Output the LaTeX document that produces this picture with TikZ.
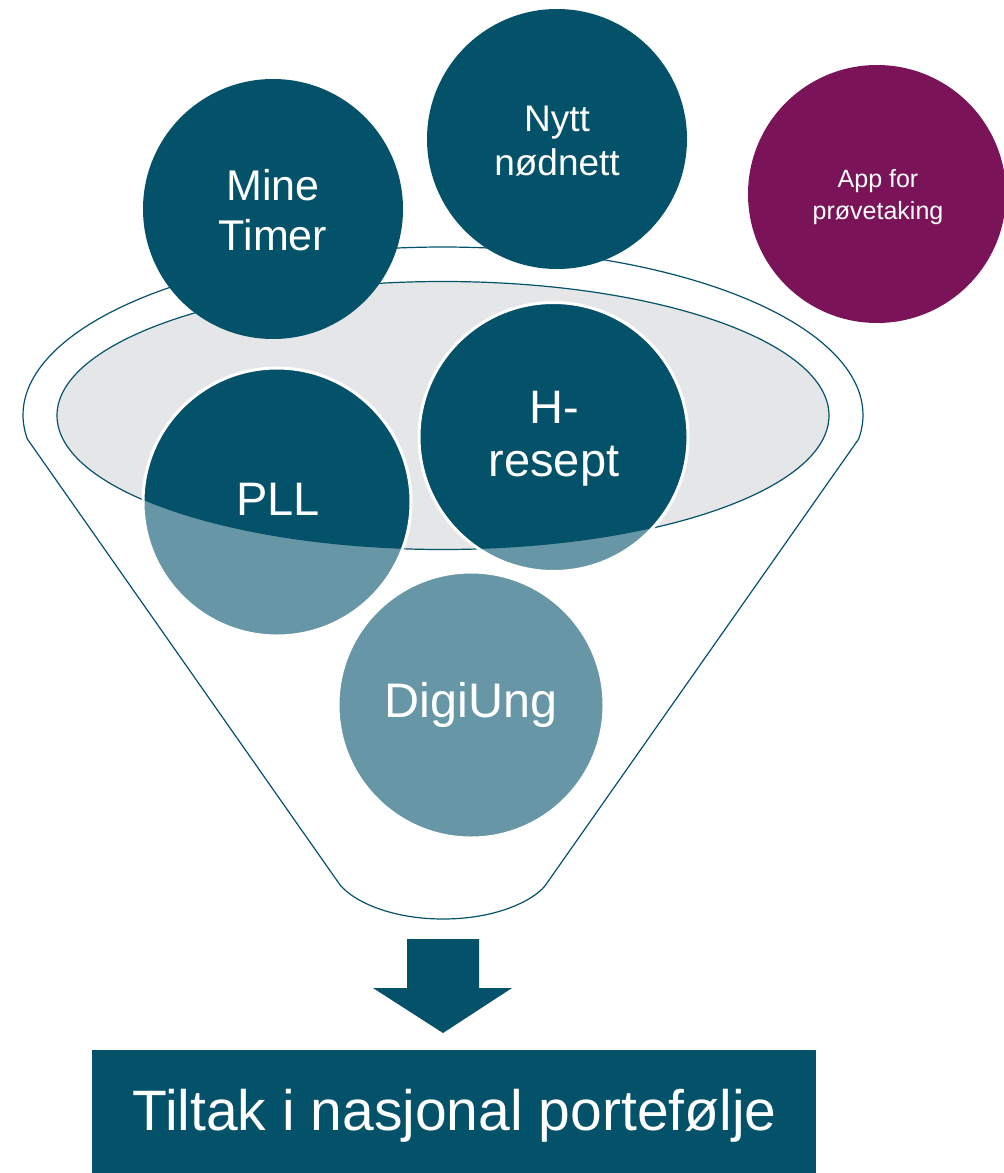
\documentclass[tikz,border=0pt]{standalone}
\usepackage{fontspec}
\setmainfont{Liberation Sans}
\definecolor{dteal}{RGB}{4,81,106}
\definecolor{lteal}{RGB}{103,151,166}
\definecolor{plum}{RGB}{123,19,89}
\definecolor{rimgray}{RGB}{229,230,232}
\tikzset{
  outline/.style={draw=dteal, line width=1.2pt},
  bubble/.style={circle, inner sep=0pt, minimum size=#1, draw=none},
  whiteedge/.style={draw=white, line width=3pt},
  lbl/.style={text=white, align=center, inner sep=0pt, text depth=0pt},
}
\begin{document}
\begin{tikzpicture}[x=1pt, y=-1pt]
\useasboundingbox (0,0) rectangle (1004,1173);
% funnel outline
\draw[outline, line join=round]
  plot[domain=171.8:368.2, samples=160] ({443+420*cos(\x)},{415+168*sin(\x)})
  -- (547,883)
  .. controls (538,898) and (500,919) .. (443,919)
  .. controls (386,919) and (348,898) .. (338,882)
  -- cycle;
% inner rim
\filldraw[outline, fill=rimgray] (443,415.5) ellipse [x radius=386pt, y radius=134pt];
% top bubbles
\node[bubble=260pt, fill=dteal] (mine) at (273,209) {};
\node[bubble=260pt, fill=dteal] (nytt) at (557,139) {};
\node[bubble=258pt, fill=plum] (app) at (877,194) {};
% bubbles inside the funnel (light parts)
\node[bubble=268pt, fill=lteal] (pll) at (277,502) {};
\node[bubble=269pt, fill=lteal] (hres) at (553.5,437) {};
\node[bubble=266pt, fill=lteal, whiteedge] (digi) at (471,705) {};
% dark parts inside the rim
\begin{scope}
  \clip (443,415.5) ellipse [x radius=386pt, y radius=134pt];
  \fill[dteal] (pll.center) circle[radius=134pt];
  \fill[dteal] (hres.center) circle[radius=134.5pt];
\end{scope}
\draw[whiteedge] (pll.center) circle[radius=134pt];
\draw[whiteedge] (hres.center) circle[radius=134.5pt];
% labels
\node[lbl, font=\fontsize{43}{50}\selectfont] (minet) at (273,209.5) {Mine\\Timer};
\node[lbl, font=\fontsize{37}{44}\selectfont] (nyttt) at (557,140.5) {Nytt\\nødnett};
\node[lbl, font=\fontsize{25}{32}\selectfont] (appt) at (878,194) {App for\\prøvetaking};
\node[lbl, font=\fontsize{47}{53}\selectfont] (pllt) at (278,499) {PLL};
\node[lbl, font=\fontsize{47}{53}\selectfont] (hrest) at (554,433.5) {H-\\resept};
\node[lbl, font=\fontsize{48.5}{53}\selectfont] (digit) at (471,700) {DigiUng};
% arrow
\fill[dteal] (407,939) -- (479,939) -- (479,988) -- (512,988) -- (443,1033)
  -- (373,988) -- (407,988) -- cycle;
% result box
\node[fill=dteal, minimum width=724pt, minimum height=123pt, inner sep=0pt] (box) at (454,1111.5) {};
\node[lbl, font=\fontsize{57}{62}\selectfont] (boxt) at (454.5,1110) {Tiltak i nasjonal portefølje};
\end{tikzpicture}
\end{document}
